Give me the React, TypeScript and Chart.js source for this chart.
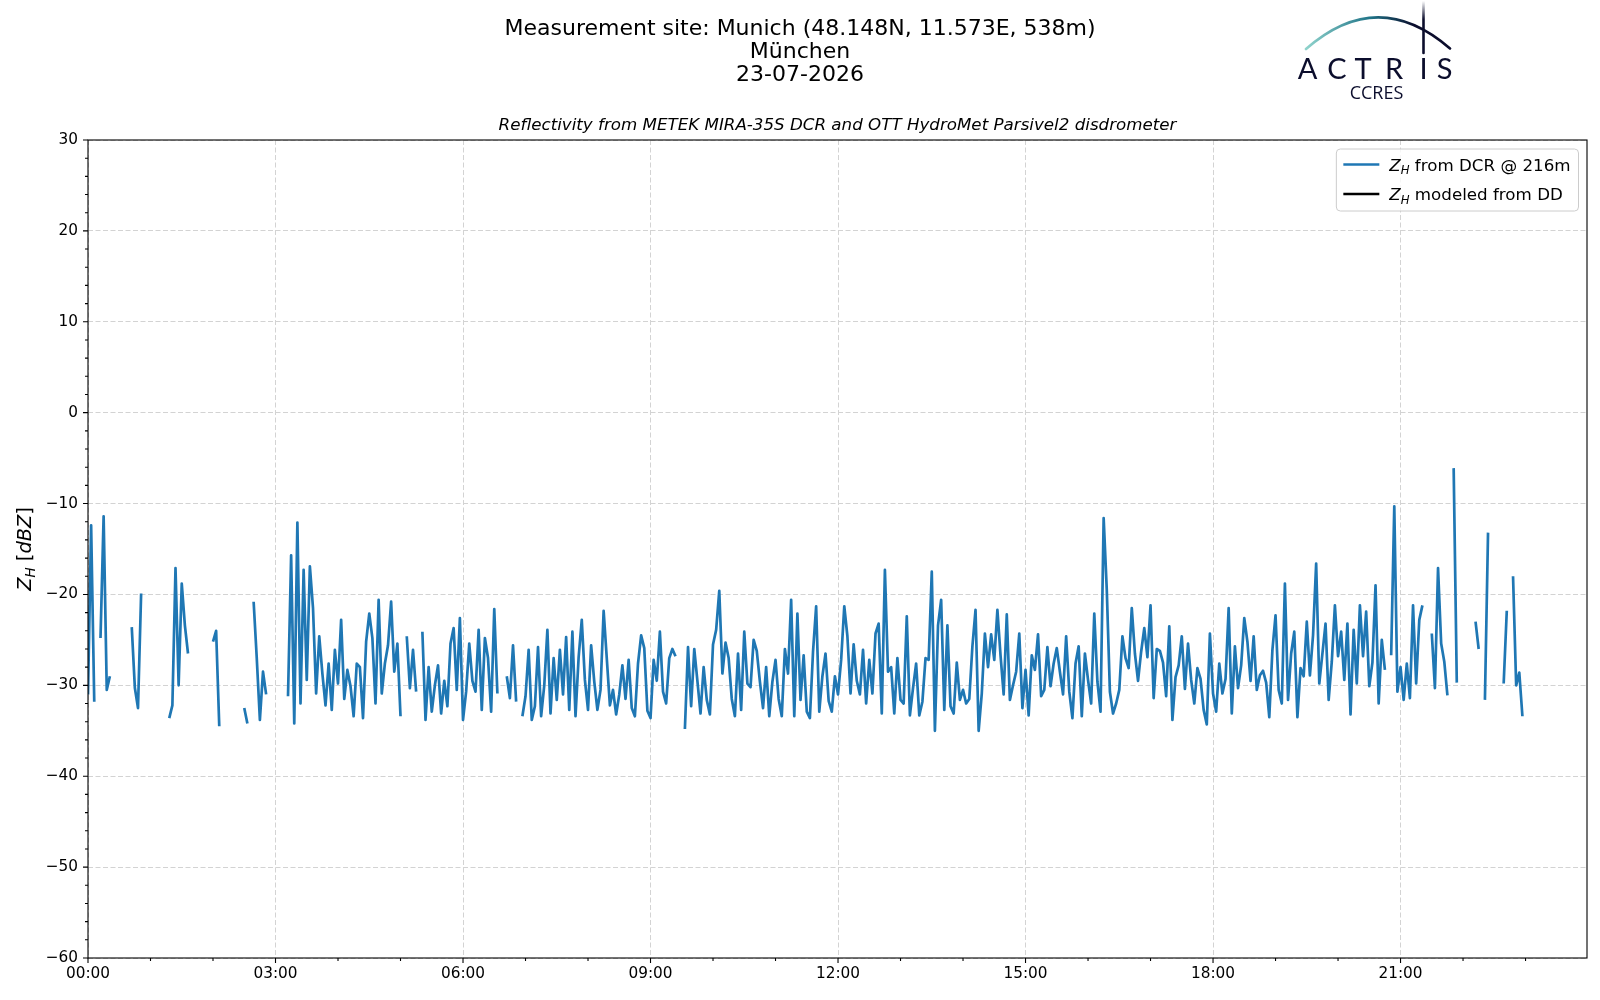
import { useEffect, useRef } from 'react';
import { Chart, registerables } from 'chart.js';

Chart.register(...registerables);

// Z_H from the DCR, 3-minute samples, one array per hour (null = no data)
const h00 = [-31, -12.4, -31.8, null, -24.8, -11.4, -30.5, -29, null, null, null, null, null, null, -23.6, -30.3, -32.5, -19.9, null, null];
const h01 = [null, null, null, null, null, null, -33.6, -32.2, -17.1, -30, -18.8, -23.4, -26.5, null, null, null, null, null, null, null];
const h02 = [-25.2, -24, -34.5, null, null, null, null, null, null, null, -32.5, -34.2, null, -20.8, -27, -33.8, -28.5, -31, null, null];
const h03 = [null, null, null, null, -31.2, -15.7, -34.2, -12.1, -32, -17.3, -29.4, -16.9, -21.5, -30.9, -24.6, -28.7, -32.2, -27.6, -32.7, -26.1];
const h04 = [-29.8, -22.8, -31.5, -28.3, -30.1, -33.4, -27.6, -28, -33.6, -25.2, -22.1, -24.8, -32, -20.6, -30.9, -27.6, -25.6, -20.8, -28.5, -25.4];
const h05 = [-33.4, null, -24.6, -30.3, -26.1, -30.7, null, -24.1, -33.8, -28, -32.9, -30, -27.8, -33.1, -29.5, -32.3, -25.4, -23.7, -30.5, -22.6];
const h06 = [-33.8, -30.7, -25.4, -29.5, -30.7, -23.9, -32.7, -24.8, -27, -32.9, -21.6, -30.9, null, null, -29, -31.4, -25.6, -31.8, null, -33.4];
const h07 = [-31.2, -26.1, -33.8, -32.3, -25.8, -33.4, -30, -23.9, -33.1, -27, -31.6, -26.1, -31, -24.7, -32.7, -24.1, -33.4, -26.9, -22.8, -29.4];
const h08 = [-32.7, -25.6, -29.6, -32.7, -30.5, -21.8, -27, -32.2, -30.5, -33.2, -31, -27.8, -31.5, -27.2, -32.5, -33.4, -27.6, -24.5, -25.9, -32.8];
const h09 = [-33.6, -27.2, -29.5, -24.1, -30.7, -32, -27, -26, -26.8, null, null, -34.8, -25.8, -32.3, -26, -29.5, -33.1, -28, -31.6, -33.2];
const h10 = [-25.5, -23.9, -19.6, -28.7, -25.3, -27, -31.5, -33.4, -26.5, -32.7, -24.1, -29.8, -30.2, -25, -26.2, -29.6, -32.5, -28, -33.4, -29.6];
const h11 = [-27.2, -31.5, -33.4, -26, -28.7, -20.6, -33.4, -22.1, -31.6, -26.7, -32.9, -33.6, -26.3, -21.3, -32.9, -29, -26.5, -31.7, -32.9, -29];
const h12 = [-31, -27.2, -21.3, -24.6, -30.9, -25.5, -29.5, -31, -26.1, -32, -27.2, -30.9, -24.3, -23.2, -33.1, -17.3, -28.5, -28, -33.1, -27];
const h13 = [-31.6, -32, -22.4, -33.3, -30.3, -27.6, -33.3, -31.8, -27, -27.2, -17.5, -35, -23.4, -20.6, -32.7, -23.4, -32.3, -33.1, -27.5, -31.6];
const h14 = [-30.5, -32, -31.5, -25.7, -21.7, -35, -30.9, -24.3, -28, -24.4, -27.2, -21.7, -26.7, -31, -22.2, -31.6, -30, -28.5, -24.3, -32.5];
const h15 = [-28.3, -33.3, -26.7, -28.3, -24.4, -31.2, -30.5, -25.8, -30.1, -27.6, -25.9, -28.5, -31, -24.6, -30.7, -33.6, -27.6, -25.7, -33.4, -26.5];
const h16 = [-29.4, -32, -22.1, -29.6, -32.9, -11.6, -19.5, -30.7, -33.1, -32, -30.5, -24.6, -27, -28.1, -21.5, -26.5, -29.5, -26.3, -23.7, -26.9];
const h17 = [-21.2, -31.4, -26, -26.2, -27.5, -31.2, -23.5, -33.8, -29.1, -27.8, -24.6, -30.4, -25.4, -29.4, -32, -28.1, -29.3, -32.7, -34.3, -24.3];
const h18 = [-30.9, -32.9, -27.6, -30.9, -29.3, -21.5, -33.1, -25.7, -30.3, -27.8, -22.6, -25.2, -29.5, -24.6, -30.5, -28.9, -28.4, -29.7, -33.5, -26.1];
const h19 = [-22.3, -30.5, -32, -18.8, -31.6, -26.5, -24.1, -33.5, -28.1, -29, -23, -28.9, -24.5, -16.6, -29.8, -26.5, -23.2, -31.6, -27.4, -21.2];
const h20 = [-26.8, -24.1, -29.4, -23.2, -33.2, -23.9, -29.8, -21.2, -26.8, -21.9, -30.1, -27.5, -19, -32, -25, -28.3, null, -26.7, -10.3, -30.7];
const h21 = [-28, -31.6, -27.6, -31.4, -21.2, -29.8, -22.8, -21.2, null, null, -24.3, -30.3, -17.1, -25.4, -27.4, -31.1, null, -6.1, -29.7, null];
const h22 = [null, null, null, null, -23, -26, null, -31.6, -13.2, null, null, null, null, -29.8, -21.8, null, -18, -30, -28.6, -33.4];

const DCR_HOURS = [h00, h01, h02, h03, h04, h05, h06, h07, h08, h09, h10, h11, h12, h13, h14, h15, h16, h17, h18, h19, h20, h21, h22];
const SAMPLE_STEP_MIN = 3;

// no modeled values on this day, only the legend entry
const ddModeled: (number | null)[] = [];

// axis ticks (minutes of day / dBZ)
const X_TICKS = [0, 180, 360, 540, 720, 900, 1080, 1260];
const X_MAX_MIN = 1439;
const X_MINOR_STEP = 60;
const Y_MIN = -60;
const Y_MAX = 30;
const Y_STEP = 10;
const Y_MINOR_STEP = 2;

const TITLE_LINES = ['Measurement site: Munich (48.148N, 11.573E, 538m)', 'München', '23-07-2026'];
const SUBTITLE = 'Reflectivity from METEK MIRA-35S DCR and OTT HydroMet Parsivel2 disdrometer';
const DCR_LABEL = 'Z_H from DCR @ 216m';
const DD_LABEL = 'Z_H modeled from DD';

const FONT = "'DejaVu Sans', sans-serif";
const BLUE = '#1f77b4';
const NAVY = '#0b0d2c';

type Part = { text: string; italic?: boolean; sub?: boolean };

const partFont = (p: Part, size: number) =>
  `${p.italic ? 'italic ' : ''}${p.sub ? size * 0.7 : size}px ${FONT}`;

function partsWidth(ctx: CanvasRenderingContext2D, parts: Part[], size: number) {
  let w = 0;
  for (const p of parts) {
    ctx.font = partFont(p, size);
    w += ctx.measureText(p.text).width;
  }
  return w;
}

function drawParts(ctx: CanvasRenderingContext2D, parts: Part[], x: number, y: number, size: number) {
  let cx = x;
  ctx.textAlign = 'left';
  ctx.textBaseline = 'alphabetic';
  for (const p of parts) {
    ctx.font = partFont(p, size);
    ctx.fillText(p.text, cx, p.sub ? y + size * 0.22 : y);
    cx += ctx.measureText(p.text).width;
  }
}

// "Z_H rest" -> italic Z with italic subscript H, then plain text
function labelParts(label: string): Part[] {
  if (label.startsWith('Z_H')) {
    return [{ text: 'Z', italic: true }, { text: 'H', italic: true, sub: true }, { text: label.slice(3) }];
  }
  return [{ text: label }];
}

const hhmm = (m: number) =>
  `${String(Math.floor(m / 60)).padStart(2, '0')}:${String(Math.round(m % 60)).padStart(2, '0')}`;

const decorPlugin = {
  id: 'mplDecor',
  afterDraw(chart: any) {
    const { ctx, chartArea: a, scales } = chart;
    const xs = scales.x;
    const ys = scales.y;
    ctx.save();

    // ticks, major and minor, outward like matplotlib
    ctx.strokeStyle = '#000';
    ctx.lineWidth = 1.1;
    ctx.beginPath();
    for (let v = Y_MIN; v <= Y_MAX; v += Y_MINOR_STEP) {
      const py = ys.getPixelForValue(v);
      const len = v % Y_STEP === 0 ? 5 : 3;
      ctx.moveTo(a.left, py);
      ctx.lineTo(a.left - len, py);
    }
    for (let m = 0; m <= X_MAX_MIN; m += X_MINOR_STEP) {
      const px = xs.getPixelForValue(m);
      const len = X_TICKS.includes(m) ? 5 : 3;
      ctx.moveTo(px, a.bottom);
      ctx.lineTo(px, a.bottom + len);
    }
    ctx.stroke();
    ctx.strokeRect(a.left, a.top, a.right - a.left, a.bottom - a.top);

    // titles
    ctx.fillStyle = '#000';
    ctx.textAlign = 'center';
    ctx.textBaseline = 'middle';
    ctx.font = `22px ${FONT}`;
    TITLE_LINES.forEach((t, i) => ctx.fillText(t, 800, 29 + i * 23));
    ctx.font = `italic 16.7px ${FONT}`;
    ctx.fillText(SUBTITLE, (a.left + a.right) / 2, 126);

    // y axis label
    const yl: Part[] = [
      { text: 'Z', italic: true },
      { text: 'H', italic: true, sub: true },
      { text: ' [' },
      { text: 'dBZ', italic: true },
      { text: ']' },
    ];
    ctx.save();
    ctx.translate(31, (a.top + a.bottom) / 2);
    ctx.rotate(-Math.PI / 2);
    const ylw = partsWidth(ctx, yl, 19.4);
    drawParts(ctx, yl, -ylw / 2, 0, 19.4);
    ctx.restore();

    // legend box
    const size = 16.7;
    const rows = chart.data.datasets.map((d: any) => ({ parts: labelParts(d.label), color: d.borderColor }));
    const textW = Math.max(...rows.map((r: any) => partsWidth(ctx, r.parts, size)));
    const boxW = 53 + textW + 8;
    const boxH = 62;
    const bx = a.right - 8.5 - boxW;
    const by = a.top + 9;
    ctx.beginPath();
    ctx.roundRect(bx, by, boxW, boxH, 4);
    ctx.fillStyle = 'rgba(255,255,255,0.8)';
    ctx.fill();
    ctx.strokeStyle = '#cccccc';
    ctx.lineWidth = 1;
    ctx.stroke();
    rows.forEach((r: any, i: number) => {
      const cy = by + 15.5 + i * 29.5;
      ctx.strokeStyle = r.color;
      ctx.lineWidth = 2.7;
      ctx.beginPath();
      ctx.moveTo(bx + 7, cy);
      ctx.lineTo(bx + 43, cy);
      ctx.stroke();
      ctx.fillStyle = '#000';
      drawParts(ctx, r.parts, bx + 53, cy + 6, size);
    });

    // ACTRIS / CCRES logo
    const arc = ctx.createLinearGradient(1306, 0, 1450, 0);
    arc.addColorStop(0, '#8fd3cc');
    arc.addColorStop(0.45, '#1f7387');
    arc.addColorStop(0.75, NAVY);
    arc.addColorStop(1, NAVY);
    ctx.strokeStyle = arc;
    ctx.lineWidth = 2.6;
    ctx.lineCap = 'round';
    ctx.beginPath();
    ctx.moveTo(1306, 49);
    ctx.quadraticCurveTo(1378, -14, 1450, 48.5);
    ctx.stroke();
    const stem = ctx.createLinearGradient(0, 1, 0, 53);
    stem.addColorStop(0, 'rgba(11,13,44,0)');
    stem.addColorStop(0.35, NAVY);
    stem.addColorStop(1, NAVY);
    ctx.strokeStyle = stem;
    ctx.lineWidth = 2.6;
    ctx.beginPath();
    ctx.moveTo(1423.5, 1);
    ctx.lineTo(1423.5, 53);
    ctx.stroke();
    ctx.fillStyle = NAVY;
    ctx.textAlign = 'center';
    ctx.textBaseline = 'alphabetic';
    ctx.font = `29px Lato, ${FONT}`;
    const letters = ['A', 'C', 'T', 'R', 'I', 'S'];
    const centers = [1307.5, 1337, 1363, 1394, 1423.5, 1444.5];
    letters.forEach((l, i) => ctx.fillText(l, centers[i], 78.5));
    ctx.font = `18px 'Open Sans', ${FONT}`;
    ctx.fillText('CCRES', 1376.5, 98.5);

    ctx.restore();
  },
};

const App = () => {
  const chartRef = useRef<HTMLCanvasElement>(null);
  const chartInstance = useRef<Chart | null>(null);

  useEffect(() => {
    if (!chartRef.current) return;
    if (chartInstance.current) chartInstance.current.destroy();

    const dcrPoints = DCR_HOURS.flat().map((v, i) => ({ x: i * SAMPLE_STEP_MIN, y: v }));
    const ddPoints = ddModeled.map((v, i) => ({ x: i * SAMPLE_STEP_MIN, y: v }));

    chartInstance.current = new Chart(chartRef.current, {
      type: 'line',
      data: {
        datasets: [
          {
            label: DCR_LABEL,
            data: dcrPoints as any,
            borderColor: BLUE,
            backgroundColor: BLUE,
            borderWidth: 2.7,
            borderJoinStyle: 'round',
            pointRadius: 0,
            pointHoverRadius: 0,
            spanGaps: false,
          },
          {
            label: DD_LABEL,
            data: ddPoints as any,
            borderColor: '#000000',
            backgroundColor: '#000000',
            borderWidth: 2.7,
            pointRadius: 0,
          },
        ],
      },
      options: {
        animation: false,
        responsive: true,
        maintainAspectRatio: false,
        devicePixelRatio: 1,
        events: [],
        layout: { padding: { top: 140, right: 13, left: 0, bottom: 0 } },
        plugins: {
          legend: { display: false },
          tooltip: { enabled: false },
          title: { display: false },
        },
        scales: {
          x: {
            type: 'linear',
            min: 0,
            max: X_MAX_MIN,
            afterFit: (s: any) => {
              s.height = 42;
            },
            afterBuildTicks: (s: any) => {
              s.ticks = X_TICKS.map((v) => ({ value: v }));
            },
            ticks: {
              autoSkip: false,
              maxRotation: 0,
              padding: 7,
              color: '#000',
              font: { family: FONT, size: 15.3 },
              callback: (v: any) => hhmm(Number(v)),
            },
            grid: { color: '#d3d3d3', lineWidth: 1, drawTicks: false },
            border: { display: false, dash: [5, 2.5] },
          },
          y: {
            min: Y_MIN,
            max: Y_MAX,
            afterFit: (s: any) => {
              s.width = 88;
            },
            ticks: {
              stepSize: Y_STEP,
              padding: 10,
              color: '#000',
              font: { family: FONT, size: 15.3 },
              callback: (v: any) => String(v).replace('-', '\u2212'),
            },
            grid: { color: '#d3d3d3', lineWidth: 1, drawTicks: false },
            border: { display: false, dash: [5, 2.5] },
          },
        },
      },
      plugins: [decorPlugin],
    });

    return () => {
      if (chartInstance.current) {
        chartInstance.current.destroy();
        chartInstance.current = null;
      }
    };
  }, []);

  return (
    <div style={{ position: 'fixed', left: 0, top: 0, width: 1600, height: 1000, background: '#fff' }}>
      <canvas ref={chartRef} />
    </div>
  );
};

export default App;
